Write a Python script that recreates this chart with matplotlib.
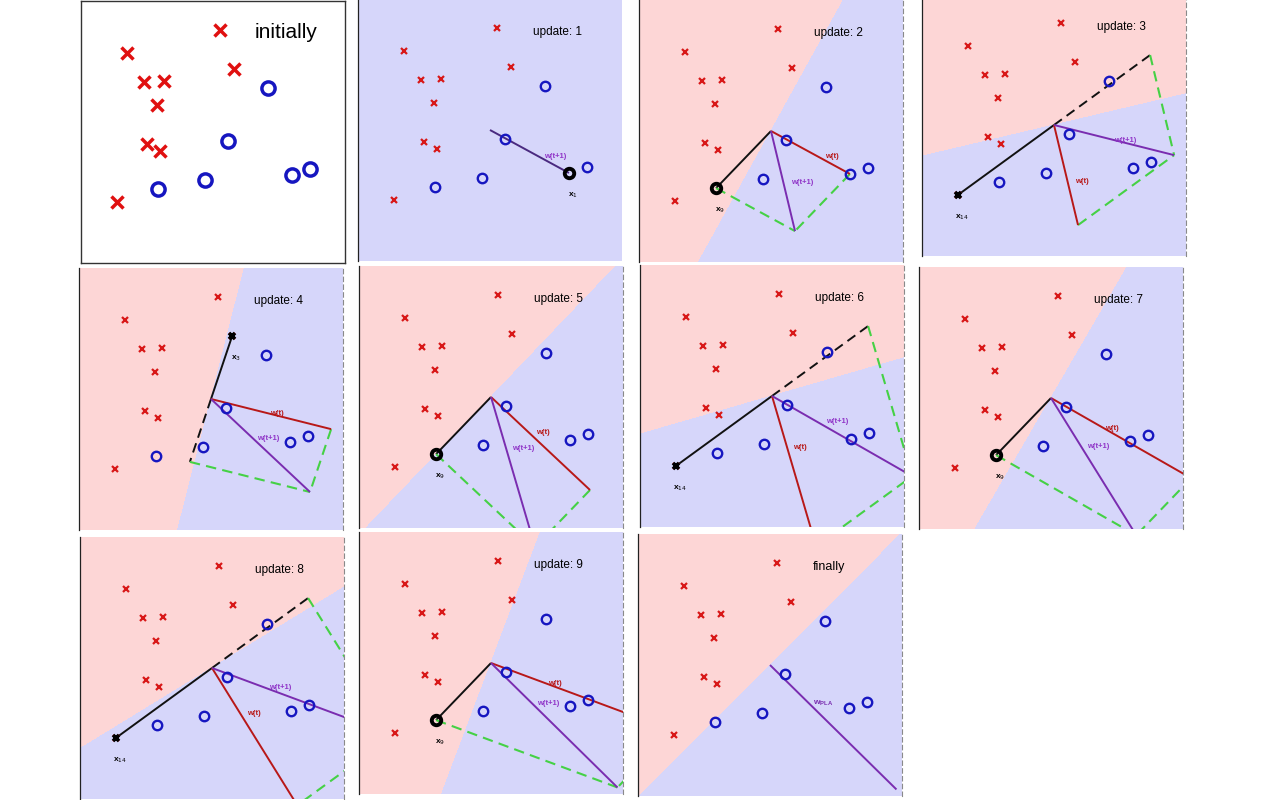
import numpy as np
import matplotlib.pyplot as plt

plt.rcParams['font.family'] = ['Liberation Sans', 'DejaVu Sans']

# data points, in the unit square of each panel
cross_x = [0.527, 0.174, 0.239, 0.314, 0.288, 0.250, 0.299, 0.580, 0.136]
cross_y = [0.889, 0.802, 0.691, 0.695, 0.603, 0.454, 0.427, 0.740, 0.233]
circle_x = [0.708, 0.557, 0.470, 0.292, 0.799, 0.867]
circle_y = [0.668, 0.466, 0.317, 0.282, 0.336, 0.359]

# where the w vectors start
origin = (0.5, 0.5)

# mistake fixed at each update: subscript, class ('o' = +1, 'x' = -1), index in its list
upd_name = ['1', '9', '14', '3', '9', '14', '9', '14', '9']
upd_kind = ['o', 'o', 'x', 'x', 'o', 'x', 'o', 'x', 'o']
upd_index = [4, 3, 8, 7, 3, 8, 3, 8, 3]

titles = ['initially'] + ['update: %d' % (i + 1) for i in range(9)] + ['finally']

# layout: top-left corner of every panel in pixels, panel size
panel_px = [(81, 1), (358, -1), (639, 0), (922, -6),
            (79, 268), (359, 266), (640, 265), (919, 267),
            (80, 537), (359, 532), (638, 534)]
PW, PH = 264, 262

# layout: label spots for w(t) and w(t+1) per update
wt_lab = [None, (0.731, 0.401), (0.606, 0.286), (0.750, 0.443), (0.697, 0.363),
          (0.606, 0.302), (0.731, 0.385), (0.659, 0.328), (0.742, 0.420)]
wn_lab = [(0.746, 0.397), (0.617, 0.302), (0.769, 0.439), (0.716, 0.351), (0.621, 0.305),
          (0.746, 0.401), (0.678, 0.313), (0.758, 0.427), (0.716, 0.347)]
pla_lab = (0.701, 0.355)

PINK = '#fdd6d6'
LAV = '#d6d6fa'
RED = '#d81818'
BLUE = '#1616c0'
WRED = '#b81818'
PURP = '#7a2db0'
GREEN = '#45d145'

fig = plt.figure(figsize=(12.8, 8), dpi=100)

def make_ax(k):
    l, t = panel_px[k]
    ax = fig.add_axes([l / 1280, 1 - (t + PH) / 800, PW / 1280, PH / 800])
    ax.set_xlim(0, 1)
    ax.set_ylim(0, 1)
    ax.set_xticks([])
    ax.set_yticks([])
    return ax

def shade(ax, w):
    if w[0] == 0 and w[1] == 0:
        ax.set_facecolor(LAV)
        return
    gx, gy = np.meshgrid(np.linspace(-0.02, 1.02, 500), np.linspace(-0.02, 1.02, 500))
    s = (gx - origin[0]) * w[0] + (gy - origin[1]) * w[1]
    ax.contourf(gx, gy, s, levels=[-1e9, 0, 1e9], colors=[PINK, LAV], zorder=0)

def seg(ax, p, q, **kw):
    ax.plot([p[0], q[0]], [p[1], q[1]], solid_capstyle='butt', **kw)

ox, oy = origin
w = np.zeros(2)
for k in range(11):
    ax = make_ax(k)
    for s in ax.spines.values():
        s.set_visible(False)
    if k == 0:
        for s in ax.spines.values():
            s.set_visible(True)
            s.set_color('#333333')
            s.set_linewidth(1.0)
        ax.plot(cross_x, cross_y, 'x', color='#e01010', ms=8, mew=2.5, zorder=5)
        ax.plot(circle_x, circle_y, 'o', mfc='none', mec=BLUE, ms=9.5, mew=2.5, zorder=5)
        ax.text(0.778, 0.878, titles[k], fontsize=15, ha='center', va='center')
        continue

    ax.spines['left'].set_visible(True)
    ax.spines['left'].set_color('#222222')
    ax.spines['left'].set_linewidth(0.9)
    if k != 1:
        # faint dashed edge seen on the right of the screenshots
        ax.spines['right'].set_visible(True)
        ax.spines['right'].set_color('#8a8a8a')
        ax.spines['right'].set_linewidth(0.8)
        ax.spines['right'].set_linestyle((0, (4, 3)))
    shade(ax, w)
    ax.plot(cross_x, cross_y, 'x', color=RED, ms=4.5, mew=1.6, zorder=5)
    ax.plot(circle_x, circle_y, 'o', mfc='none', mec=BLUE, ms=6.8, mew=1.7, zorder=5)
    ax.text(0.663, 0.874, titles[k], fontsize=9 if k == 10 else 8.5, ha='left', va='center')

    if k == 10:
        seg(ax, origin, (ox + w[0], oy + w[1]), color=PURP, lw=1.4, zorder=3)
        ax.text(pla_lab[0], pla_lab[1], r'w$_{\mathregular{PLA}}$', fontsize=6, color=PURP,
                ha='center', va='center', fontweight='bold')
        continue

    u = k - 1
    yn = 1 if upd_kind[u] == 'o' else -1
    if upd_kind[u] == 'o':
        p = (circle_x[upd_index[u]], circle_y[upd_index[u]])
    else:
        p = (cross_x[upd_index[u]], cross_y[upd_index[u]])
    xv = np.array([p[0] - ox, p[1] - oy])
    w_new = w + yn * xv
    end_old = (ox + w[0], oy + w[1])
    end_new = (ox + w_new[0], oy + w_new[1])
    end_yx = (ox + yn * xv[0], oy + yn * xv[1])

    # y_n x_n
    if w.any():
        seg(ax, origin, p, color='#111111', lw=1.4, zorder=3)
    if yn < 0:
        seg(ax, origin, end_yx, color='#111111', lw=1.4, ls=(0, (5, 3)), zorder=3)
    # parallelogram
    if w.any():
        seg(ax, end_yx, end_new, color=GREEN, lw=1.5, ls=(0, (5, 3)), zorder=3)
        seg(ax, end_old, end_new, color=GREEN, lw=1.5, ls=(0, (5, 3)), zorder=3)
        seg(ax, origin, end_old, color=WRED, lw=1.4, zorder=3)
        ax.text(wt_lab[u][0], wt_lab[u][1], 'w(t)', fontsize=5.5, color=WRED,
                ha='center', va='center', fontweight='bold')
    seg(ax, origin, end_new, color=PURP if w.any() else '#4a2a80', lw=1.4, zorder=3)
    ax.text(wn_lab[u][0], wn_lab[u][1], 'w(t+1)', fontsize=5.5, color='#9035c8',
            ha='center', va='center', fontweight='bold')

    # highlighted mistake
    if yn > 0:
        ax.plot(p[0], p[1], 'o', mfc='none', mec='black', ms=6.8, mew=2.8, zorder=6)
    else:
        ax.plot(p[0], p[1], 'x', color='black', ms=4.5, mew=2.6, zorder=6)
    ax.annotate(r'x$_{%s}$' % upd_name[u], p, xytext=(3, -16), textcoords='offset points',
                fontsize=6, ha='center', va='center', fontweight='bold')

    w = w_new

fig.savefig('out.png', dpi=100)
